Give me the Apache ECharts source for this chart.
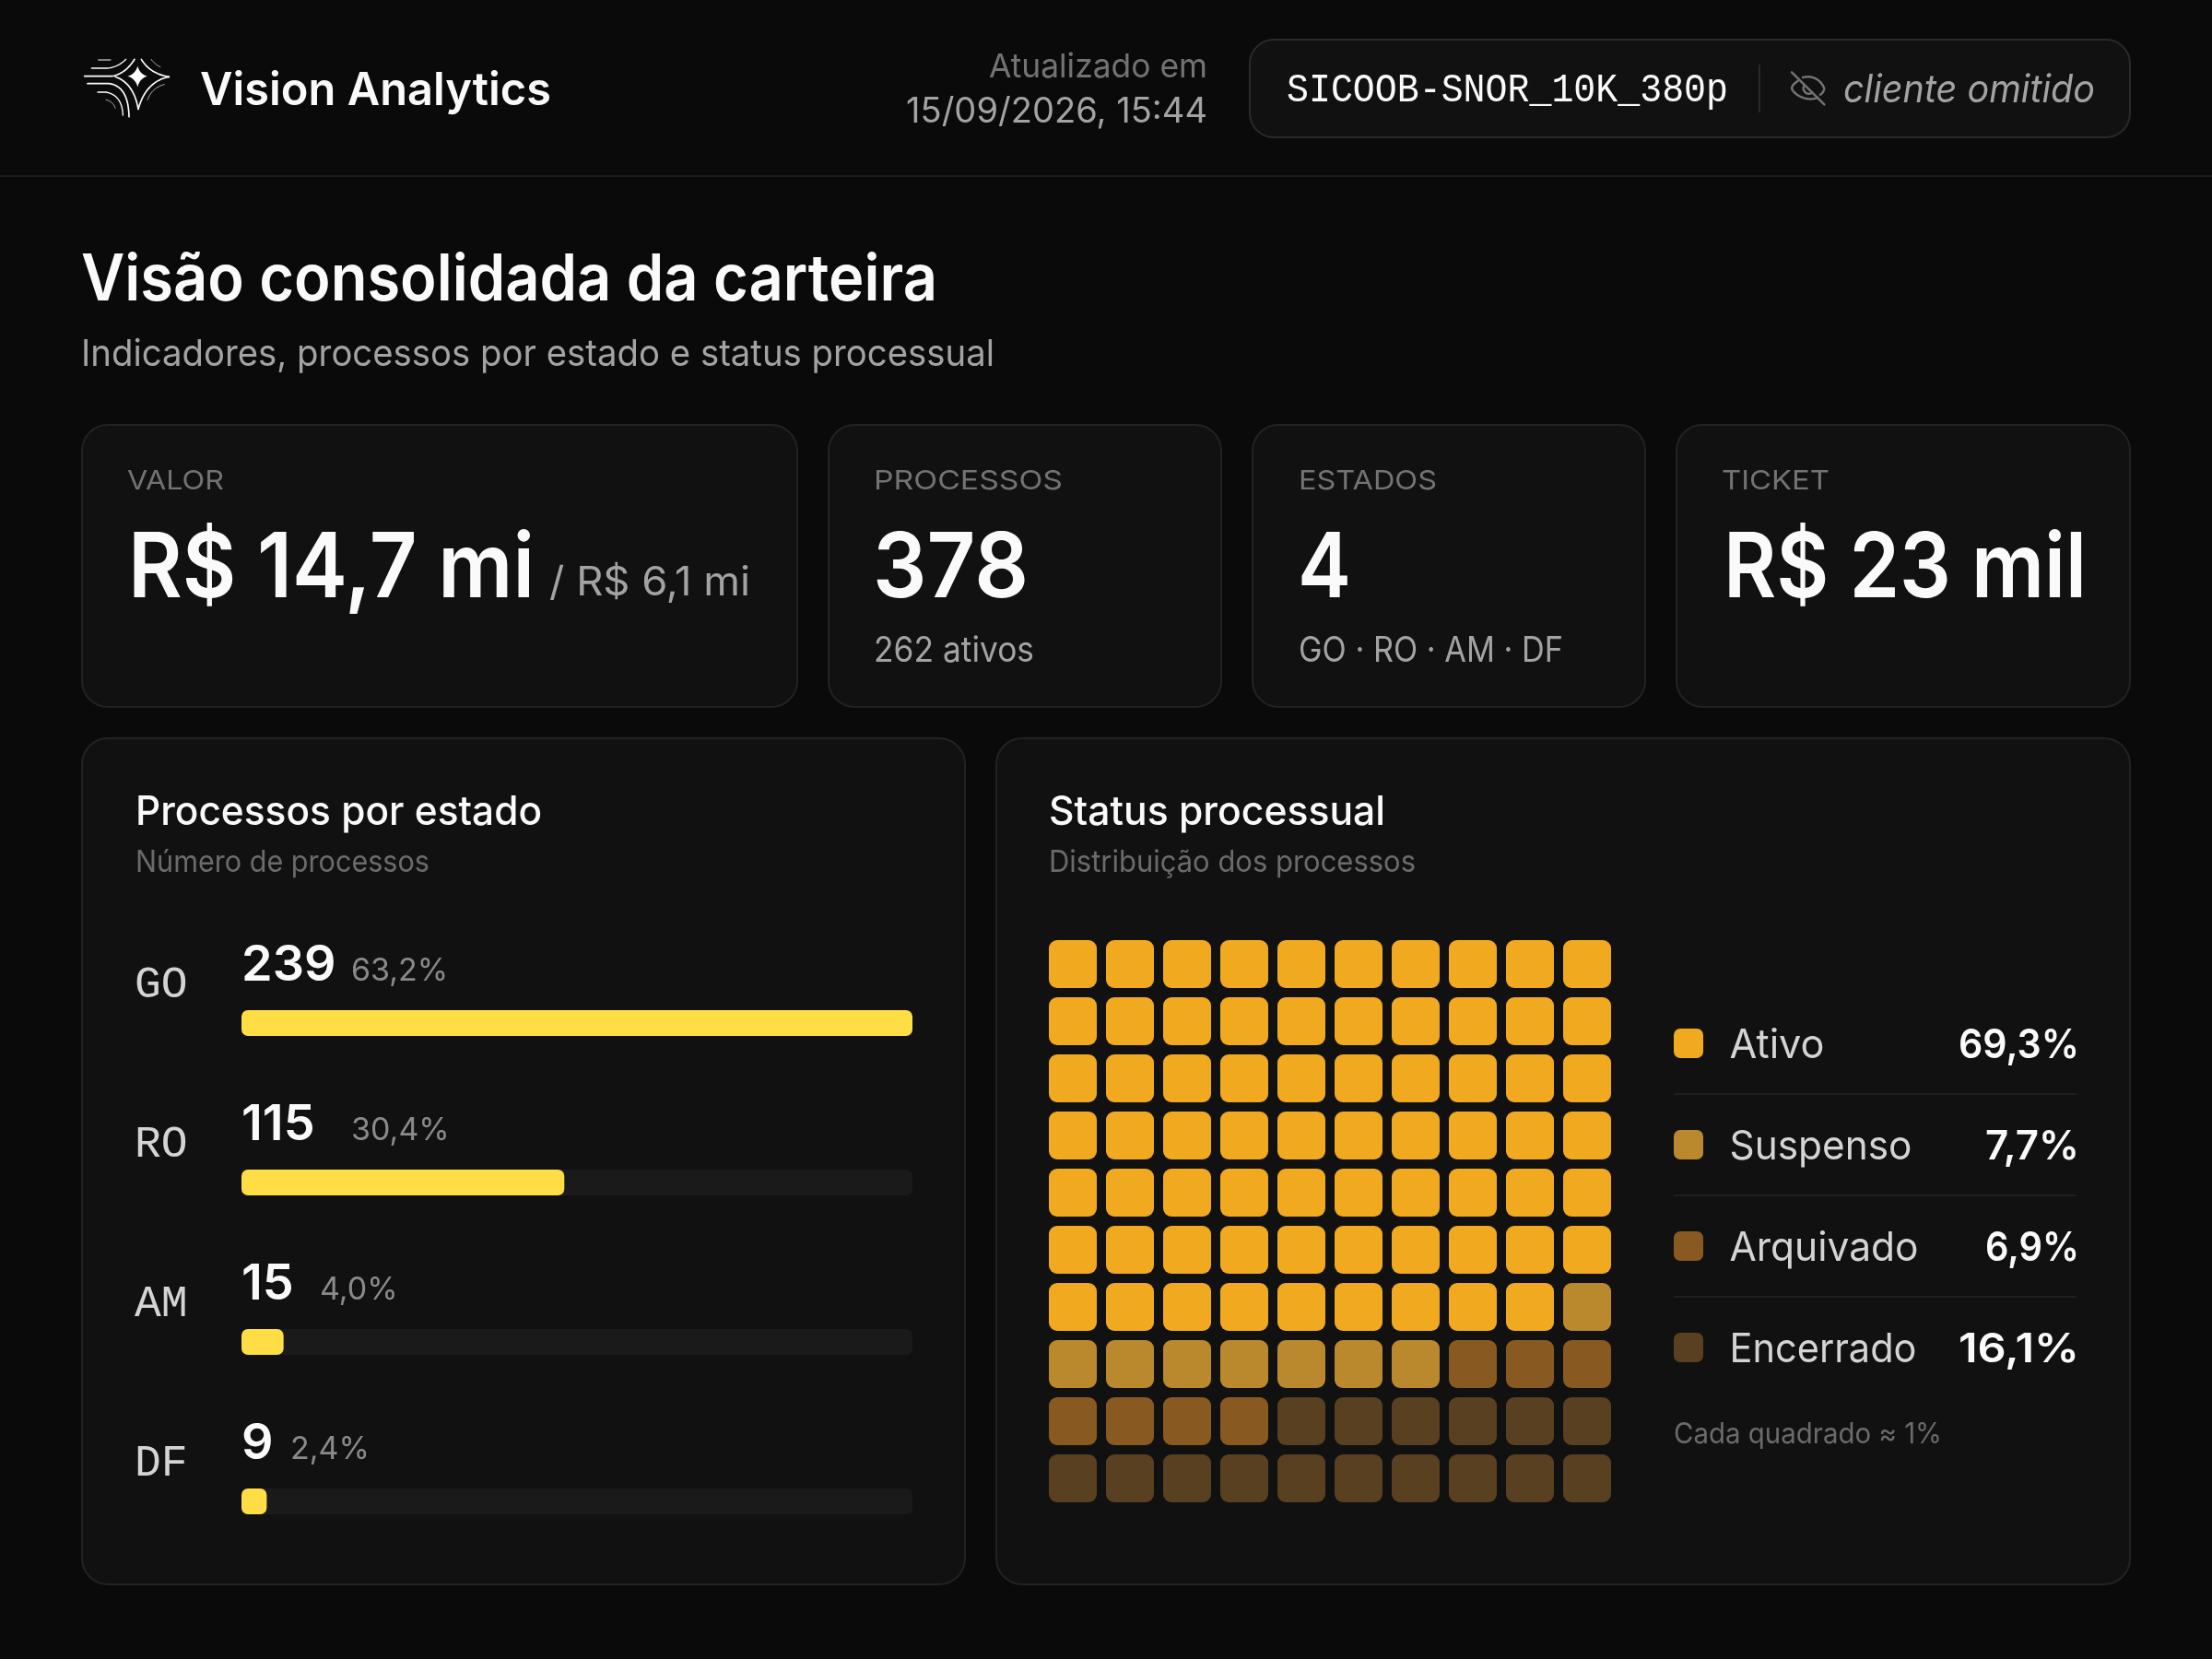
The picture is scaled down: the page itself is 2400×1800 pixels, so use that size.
<!DOCTYPE html>
<html lang="pt-BR"><head><meta charset="utf-8"><style>html,body{margin:0;background:#0a0a0a}#c{width:2400px;height:1800px}</style>
<script src="https://cdn.jsdelivr.net/npm/echarts@6/dist/echarts.min.js"></script></head><body><div id="c"></div>
<script>
const states = ['GO','RO','AM','DF'];
const stateCounts = [239,115,15,9];
const statePct = ['63,2%','30,4%','4,0%','2,4%'];
const statusNames = ['Ativo','Suspenso','Arquivado','Encerrado'];
const statusPct = ['69,3%','7,7%','6,9%','16,1%'];
const statusSquares = [69,8,7,16];
const statusColors = ['#f1aa1f','#bb892d','#885a22','#584021'];

const SANS='Inter', MONO='"Liberation Mono"';
const mc=document.createElement('canvas').getContext('2d');
function t(text,x,y,size,weight,fill,o={}){
  const fam=o.family||SANS, style=o.italic?'italic ':'';
  mc.font=`${style}${weight} ${size}px ${fam}`;
  const sx=o.w?o.w/mc.measureText(text).width:1;
  return {type:'text',x,y:y+3,scaleX:sx,silent:true,style:{text,fill,fontSize:size,fontWeight:weight,fontFamily:fam,fontStyle:o.italic?'italic':'normal',
    align:o.align||'left',textAlign:o.align||'left',verticalAlign:'middle',textVerticalAlign:'middle'}};
}
function box(x,y,w,h,r,fill,stroke){return {type:'rect',silent:true,shape:{x:x+1,y:y+1,width:w-2,height:h-2,r},style:{fill,stroke,lineWidth:2}};}
// sample an icon outline: start point, then [x,y] line, [cx,cy,x,y] quadratic or [c1x,c1y,c2x,c2y,x,y] cubic
function sample(start,segs){
  const pts=[start];let p=start;
  segs.forEach(s=>{
    if(s.length===2){pts.push(s);p=s;return;}
    for(let k=1;k<=16;k++){const u=k/16,v=1-u;let x,y;
      if(s.length===4){x=v*v*p[0]+2*v*u*s[0]+u*u*s[2];y=v*v*p[1]+2*v*u*s[1]+u*u*s[3];}
      else{x=v*v*v*p[0]+3*v*v*u*s[0]+3*v*u*u*s[2]+u*u*u*s[4];y=v*v*v*p[1]+3*v*v*u*s[1]+3*v*u*u*s[3]+u*u*u*s[5];}
      pts.push([x,y]);}
    p=s.slice(-2);
  });
  return pts;
}
function strokeIcon(x,y,lines,color){
  return {type:'group',x,y,scaleX:1/3,scaleY:1/3,silent:true,children:lines.map(l=>({type:'polyline',silent:true,shape:{points:sample(l[0],l[1])},style:{fill:'none',stroke:color,lineWidth:l[2],lineCap:'round',lineJoin:'round'}}))};
}
const g=[];
g.push({type:'rect',silent:true,shape:{x:0,y:190,width:2400,height:2},style:{fill:'#1a1a1a'}});
// logo
const logoGroup=strokeIcon(80,50,[
 [[35,98],[[125,98],[168,90,198,43]],5],[[220,43],[[248,90,310,100]],5],[[310,100],[[235,115,210,205]],5],[[135,100],[[195,120,210,205]],5],
 [[58,72],[[110,72],[145,68,170,43]],4],[[80,45],[[120,45]],3],[[45,122],[[115,122],[178,130,180,230]],5],[[78,150],[[105,150],[158,160,160,225]],4],
 [[105,175],[[128,180,135,202]],2],[[240,175],[[255,135,295,125]],2],[[252,43],[[265,60,282,68]],2]],'#fff');
logoGroup.children.unshift({type:'polygon',silent:true,shape:{points:sample([208,65],[[215,92,240,98],[215,105,208,133],[200,105,175,98],[200,92,208,65]])},style:{fill:'#fff'}});
g.push(logoGroup);
g.push(t('Vision Analytics',217,96,50,600,'#fafafa',{w:381}));
g.push(t('Atualizado em',1310,70.5,36,400,'#737373',{align:'right',w:237}));
g.push(t('15/09/2026, 15:44',1310,119,38,400,'#a3a3a3',{align:'right',w:327}));
g.push(box(1355,42,957,108,26,'#111111','#2a2a2a'));
g.push(t('SICOOB-SNOR_10K_380p',1396,95.5,44,400,'#fafafa',{family:MONO,w:479}));
g.push({type:'rect',silent:true,shape:{x:1908,y:70,width:2,height:52},style:{fill:'#2a2a2a'}});
g.push(strokeIcon(1920,60,[
 [[72,55],[[178,160]],7.5],[[92,84],[[72,95,70,108,75,114],[90,135,125,150,157,138]],7.5],
 [[108,72],[[135,65,165,75,178,108],[176,118,170,125,165,128]],7.5],[[112,100],[[105,115,120,130,135,124]],7.5]],'#737373'));
g.push(t('cliente omitido',2000,95.5,42,400,'#a3a3a3',{italic:true,w:273}));
g.push(t('Visão consolidada da carteira',88,302,70,600,'#fafafa',{w:929}));
g.push(t('Indicadores, processos por estado e status processual',88,381.5,40,400,'#a3a3a3',{w:991}));
// KPI cards
[[88,778],[898,428],[1358,428],[1818,494]].forEach(c=>g.push(box(c[0],460,c[1],308,28,'#111111','#222222')));
g.push(t('VALOR',138,519,29,400,'#737373',{w:105}));
g.push(t('PROCESSOS',948,519,29,400,'#737373',{w:205}));
g.push(t('ESTADOS',1409,519,29,400,'#737373',{w:150}));
g.push(t('TICKET',1868,519,29,400,'#737373',{w:117}));
g.push(t('R$ 14,7 mi',139,616,98,600,'#fafafa',{w:441}));
g.push(t('/ R$ 6,1 mi',596,630,44,400,'#a3a3a3',{w:218}));
g.push(t('378',947,616,98,600,'#fafafa',{w:169}));
g.push(t('262 ativos',948,704,38,400,'#a3a3a3',{w:174}));
g.push(t('4',1408,616,98,600,'#fafafa',{w:58}));
g.push(t('GO · RO · AM · DF',1409,704,38,400,'#a3a3a3',{w:287}));
g.push(t('R$ 23 mil',1870,616,98,600,'#fafafa',{w:394}));
// panels
g.push(box(88,800,960,920,28,'#111111','#222222'));
g.push(box(1080,800,1232,920,28,'#111111','#222222'));
g.push(t('Processos por estado',147,878.5,44,500,'#fafafa',{w:441}));
g.push(t('Número de processos',147,933.5,33,400,'#6b6b6b',{w:319}));
g.push(t('Status processual',1138,878.5,44,500,'#fafafa',{w:365}));
g.push(t('Distribuição dos processos',1138,933.5,33,400,'#6b6b6b',{w:398}));
// status legend
const legendW=[103,198,205,203], pctW=[131,102,102,131];
statusNames.forEach((n,i)=>{
  const y=1132+110*i;
  g.push({type:'rect',silent:true,shape:{x:1816,y:y-16,width:32,height:32,r:7},style:{fill:statusColors[i]}});
  g.push(t(n,1876.5,y,44,400,'#d4d4d4',{w:legendW[i]}));
  g.push(t(statusPct[i],2256,y,44,600,'#fafafa',{align:'right',w:pctW[i]}));
  if(i<3) g.push({type:'rect',silent:true,shape:{x:1816,y:y+54,width:437,height:2},style:{fill:'#1f1f1f'}});
});
g.push(t('Cada quadrado ≈ 1%',1816,1554,31,400,'#6b6b6b',{w:291}));

// waffle cells from the per-status square counts
const cells=[];
statusSquares.forEach((count,s)=>{for(let k=0;k<count;k++){const n=cells.length;cells.push([n%10,Math.floor(n/10),s]);}});
const idx=[0,1,2,3,4,5,6,7,8,9];

const chart=echarts.init(document.getElementById('c'),null,{width:2400,height:1800,renderer:'canvas'});
chart.setOption({
  animation:false,backgroundColor:'#0a0a0a',
  graphic:{elements:g},
  grid:[{left:262,top:1023.5,width:728,height:692},{left:1133,top:1015,width:620,height:620}],
  xAxis:[{type:'value',gridIndex:0,min:0,max:Math.max(...stateCounts),show:false},
         {type:'category',gridIndex:1,data:idx,show:false}],
  yAxis:[{type:'category',gridIndex:0,data:states,inverse:true,axisLine:{show:false},axisTick:{show:false},splitLine:{show:false},
          axisLabel:{margin:116,align:'left',fontFamily:MONO,fontSize:48,color:'#d4d4d4',padding:[0,0,17,0],verticalAlign:'bottom',lineHeight:48}},
         {type:'category',gridIndex:1,data:idx,inverse:true,show:false}],
  series:[
   {type:'bar',xAxisIndex:0,yAxisIndex:0,data:stateCounts,barWidth:28,showBackground:true,
    backgroundStyle:{color:'#1a1a1a',borderRadius:7},itemStyle:{color:'#ffdd44',borderRadius:7},
    label:{show:true,position:'insideLeft',distance:0,offset:[0,-62],
      formatter:p=>`{v${String(p.value).length}|${p.value}}{p|${statePct[p.dataIndex]}}`,
      rich:{v3:{fontFamily:SANS,fontSize:54,fontWeight:600,color:'#fafafa',width:119,verticalAlign:'bottom'},
            v2:{fontFamily:SANS,fontSize:54,fontWeight:600,color:'#fafafa',width:85,verticalAlign:'bottom'},
            v1:{fontFamily:SANS,fontSize:54,fontWeight:600,color:'#fafafa',width:53,verticalAlign:'bottom'},
            p:{fontFamily:SANS,fontSize:34,fontWeight:400,color:'#8a8a8a',verticalAlign:'bottom',padding:[0,0,4,0]}}}},
   {type:'custom',xAxisIndex:1,yAxisIndex:1,coordinateSystem:'cartesian2d',data:cells,encode:{x:0,y:1},
    renderItem:(params,api)=>{
      const c=api.coord([api.value(0),api.value(1)]), sz=api.size([1,1]);
      const w=sz[0]-10,h=sz[1]-10;
      return {type:'rect',shape:{x:c[0]-w/2,y:c[1]-h/2,width:w,height:h,r:9},style:{fill:statusColors[api.value(2)]}};
    }}
  ]
});
</script></body></html>
